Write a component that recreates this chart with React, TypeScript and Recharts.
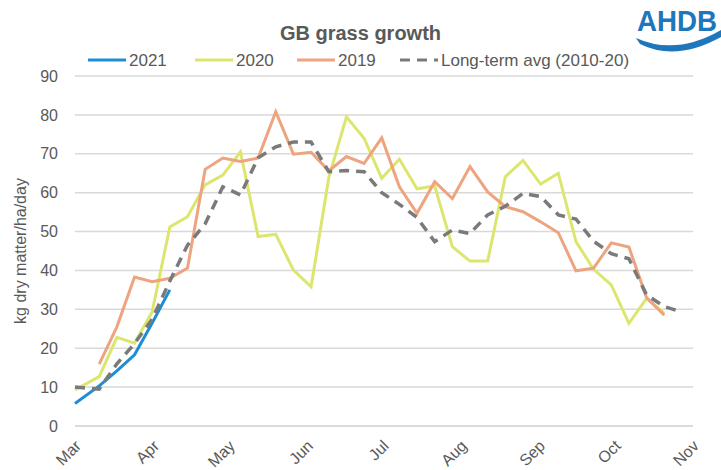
import { LineChart, Line, XAxis, YAxis, CartesianGrid } from 'recharts';

// days after 1 March for each weekly reading
const weekDay = [
  0, 9.6, 16.6, 23.6, 30.6, 37.6, 44.6, 51.6, 58.6, 65.6, 72.6, 79.6, 86.6, 93.6, 100.6, 107.6, 114.6, 121.6,
  128.6, 135.6, 142.6, 149.6, 156.6, 163.6, 170.6, 177.6, 184.6, 191.6, 198.6, 205.6, 212.6, 219.6, 226.6,
  233.6, 240.6,
];

const growth2021 = [5.8, 10.3, 14.2, 18.3, 26.5, 35];

const growth2020 = [
  9.3, 12.7, 22.8, 21.3, 29.4, 51.2, 53.8, 62, 64.5, 70.5, 48.7, 49.3, 40.1, 35.8, 63.8, 79.5, 74, 63.7, 68.6,
  61, 61.7, 46.1, 42.4, 42.4, 64.1, 68.3, 62.2, 65, 47.4, 40.3, 36.3, 26.4, 32.8, 29,
];

const growth2019 = [
  null, 15.9, 25.5, 38.3, 37.1, 38, 40.6, 66, 68.9, 68, 68.9, 80.8, 69.9, 70.4, 65.6, 69.3, 67.5, 74.1, 61.5,
  54.7, 62.8, 58.5, 66.7, 60.2, 56.4, 55.1, 52.5, 49.7, 39.9, 40.6, 47.1, 46, 33, 28.5,
];

const longTermAvg = [
  10, 9.5, 16, 21.2, 27.5, 37.3, 46.5, 52, 61.5, 59.4, 69, 71.8, 73, 73, 65.4, 65.7, 65.4, 60, 57, 53.6, 47.4,
  50.4, 49.5, 54.3, 56.5, 59.8, 59, 54.3, 53.2, 47.5, 44.3, 43, 33.7, 30.7, 29.3,
];

const monthDays = [0, 31, 61, 92, 122, 153, 184, 214, 245];
const monthNames = ['Mar', 'Apr', 'May', 'Jun', 'Jul', 'Aug', 'Sep', 'Oct', 'Nov'];
const yTicks = [0, 10, 20, 30, 40, 50, 60, 70, 80, 90];

const series = [
  { key: 'y2021', name: '2021', color: '#1F8DD6', values: growth2021, dash: undefined },
  { key: 'y2020', name: '2020', color: '#DCE66E', values: growth2020, dash: undefined },
  { key: 'y2019', name: '2019', color: '#EDA47F', values: growth2019, dash: undefined },
  { key: 'avg', name: 'Long-term avg (2010-20)', color: '#7A7A7A', values: longTermAvg, dash: '10 7' },
];

const data = weekDay.map((day, i) => {
  const row: Record<string, number | null> = { day };
  series.forEach((s) => {
    const v = s.values[i];
    row[s.key] = v === undefined ? null : v;
  });
  return row;
});

const FONT = '"Liberation Sans", Arial, sans-serif';
const TEXT = '#595959';

const MonthTick = (props: any) => {
  const { x, y, payload } = props;
  const idx = monthDays.indexOf(payload.value);
  return (
    <g transform={`translate(${x + 3},${y + 15}) rotate(-45)`}>
      <text textAnchor="end" dy="0.35em" fill={TEXT} fontSize={16} fontFamily={FONT}>
        {monthNames[idx]}
      </text>
    </g>
  );
};

const legendX = [88, 195, 297, 400];

const App = () => {
  return (
    <div style={{ position: 'absolute', left: 0, top: 0, width: 721, height: 470, background: '#fff', fontFamily: FONT }}>
      <div
        style={{
          position: 'absolute',
          left: 0,
          width: 721,
          top: 22,
          textAlign: 'center',
          fontWeight: 'bold',
          fontSize: 20,
          color: TEXT,
        }}
      >
        GB grass growth
      </div>
      <svg width={721} height={470} style={{ position: 'absolute', left: 0, top: 0 }}>
        <text x={637} y={31} fontFamily={'"Liberation Sans Narrow", "Liberation Sans", Arial'} fontWeight="bold" fontSize={29} fill="#1E77BD" textLength={80} lengthAdjust="spacingAndGlyphs">
          AHDB
        </text>
        <path d="M636,38 Q676,56 721,30 L721,37 Q676,62 640,44 Z" fill="#1E77BD" />
        {series.map((s, i) => (
          <g key={s.key}>
            <line x1={legendX[i]} x2={legendX[i] + 38} y1={60} y2={60} stroke={s.color} strokeWidth={3} strokeDasharray={s.dash ? '10 7' : undefined} />
            <text x={legendX[i] + 41} y={60} dy="0.35em" fontSize={17} fill={TEXT} fontFamily={FONT}>
              {s.name}
            </text>
          </g>
        ))}
      </svg>
      <div style={{ position: 'absolute', left: 0, top: 0 }}>
        <LineChart width={721} height={470} data={data} margin={{ top: 76, right: 28, bottom: 0, left: 0 }}>
          <CartesianGrid vertical={false} stroke="#D9D9D9" strokeWidth={1.5} />
          <XAxis
            dataKey="day"
            type="number"
            domain={[0, 245]}
            ticks={monthDays}
            interval={0}
            height={44}
            tickLine={false}
            tickSize={0}
            axisLine={{ stroke: '#D9D9D9', strokeWidth: 1.5 }}
            tick={<MonthTick />}
          />
          <YAxis
            domain={[0, 90]}
            ticks={yTicks}
            width={75}
            axisLine={false}
            tickLine={false}
            tickMargin={11}
            tick={{ fill: TEXT, fontSize: 16, fontFamily: FONT }}
            label={{
              value: 'kg dry matter/ha/day',
              angle: -90,
              position: 'center',
              dx: -17,
              style: { fill: TEXT, fontSize: 16, fontFamily: FONT },
            }}
          />
          {series.map((s) => (
            <Line
              key={s.key}
              type="linear"
              dataKey={s.key}
              name={s.name}
              stroke={s.color}
              strokeWidth={s.dash ? 3.5 : 3}
              strokeDasharray={s.dash}
              dot={false}
              activeDot={false}
              isAnimationActive={false}
            />
          ))}
        </LineChart>
      </div>
    </div>
  );
};

export default App;
